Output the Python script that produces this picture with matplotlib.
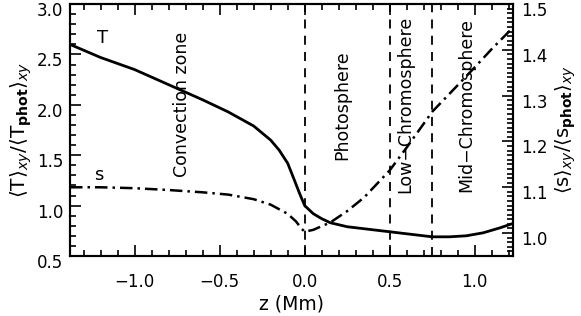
import numpy as np
import matplotlib
matplotlib.use("Agg")
import matplotlib.pyplot as plt
import matplotlib.transforms as mtransforms
from matplotlib.ticker import MultipleLocator

plt.rcParams['font.family'] = ['DejaVu Sans']
plt.rcParams['mathtext.fontset'] = 'dejavusans'

# mean temperature profile (left axis)
z_T = [-1.38, -1.2, -1.0, -0.8, -0.6, -0.45, -0.3, -0.2, -0.15, -0.1, -0.06, -0.03,
       0.0, 0.05, 0.1, 0.15, 0.25, 0.4, 0.5, 0.6, 0.75, 0.85, 0.95, 1.05, 1.15, 1.22]
T = [2.6, 2.47, 2.35, 2.2, 2.05, 1.93, 1.79, 1.65, 1.55, 1.42, 1.25, 1.12,
     1.0, 0.92, 0.87, 0.83, 0.79, 0.76, 0.74, 0.72, 0.69, 0.69, 0.70, 0.73, 0.78, 0.82]

# mean entropy profile (right axis)
z_s = [-1.38, -1.2, -1.0, -0.8, -0.6, -0.45, -0.3, -0.2, -0.1, -0.05, -0.02,
       0.0, 0.05, 0.1, 0.15, 0.25, 0.35, 0.5, 0.6, 0.75, 0.9, 1.0, 1.1, 1.22]
s = [1.1, 1.1, 1.098, 1.094, 1.089, 1.084, 1.074, 1.062, 1.042, 1.025, 1.01,
     1.003, 1.007, 1.015, 1.023, 1.048, 1.078, 1.137, 1.187, 1.265, 1.323, 1.362, 1.402, 1.447]

layers = [0.0, 0.5, 0.75]
zone_names = ["Convection zone", "Photosphere", "Low\u2212Chromosphere", "Mid\u2212Chromosphere"]
zone_x = [-0.72, 0.22, 0.59, 0.95]

fig = plt.figure(figsize=(5.81, 3.16), dpi=100)
ax = fig.add_axes([0.1205, 0.19, 0.7625, 0.797])
ax.plot(z_T, T, 'k-', lw=2)
for zl in layers:
    ax.axvline(zl, color='k', ls=(0, (5, 4)), lw=1.3)
for name, zx in zip(zone_names, zone_x):
    ax.text(zx, 2.0, name, rotation=90, ha='center', va='center', fontsize=12.5)
ax.text(-1.19, 2.66, "T", fontsize=13, ha='center', va='center')
ax.text(-1.21, 1.30, "s", fontsize=13, ha='center', va='center')

ax.set_xlim(-1.38, 1.225)
ax.set_ylim(0.5, 3.0)
ax.xaxis.set_major_locator(MultipleLocator(0.5))
ax.xaxis.set_minor_locator(MultipleLocator(0.1))
ax.yaxis.set_major_locator(MultipleLocator(0.5))
ax.yaxis.set_minor_locator(MultipleLocator(0.1))
ax.xaxis.set_major_formatter(plt.FuncFormatter(lambda v, p: f"{v:.1f}".replace('-', '\u2212')))
ax.yaxis.set_major_formatter(plt.FuncFormatter(lambda v, p: f"{v:.1f}"))
ax.tick_params(which='both', direction='in', top=True, right=False, labelsize=12, width=1.2)
ax.tick_params(which='major', length=8)
ax.tick_params(which='minor', length=4)
ax.tick_params(axis='x', pad=12)
ax.tick_params(axis='y', pad=5)
ax.set_xlabel("z (Mm)", fontsize=13.5, labelpad=3)
ax.set_ylabel(r"$\langle\mathrm{T}\rangle_{xy}/\langle\mathrm{T}_{\mathbf{phot}}\rangle_{xy}$",
              fontsize=14.5, labelpad=2)

ax2 = ax.twinx()
ax2.plot(z_s, s, 'k', lw=1.8, ls=(0, (5, 2, 1, 2)))
ax2.set_ylim(0.95, 1.5)
ax2.yaxis.set_major_locator(MultipleLocator(0.1))
ax2.yaxis.set_minor_locator(MultipleLocator(0.01))
ax2.yaxis.set_major_formatter(plt.FuncFormatter(lambda v, p: f"{v:.1f}"))
ax2.tick_params(which='both', direction='in', labelsize=12, width=1.2, pad=6)
ax2.tick_params(which='major', length=8)
ax2.tick_params(which='minor', length=4)
ax2.set_ylabel(r"$\langle\mathrm{s}\rangle_{xy}/\langle\mathrm{s}_{\mathbf{phot}}\rangle_{xy}$",
               fontsize=14, labelpad=4)

# tick labels sit a little below their ticks, as in the original
shift = mtransforms.ScaledTranslation(0, -5 / 100, fig.dpi_scale_trans)
for a in (ax, ax2):
    for lab in a.get_yticklabels():
        lab.set_transform(lab.get_transform() + shift)
    for sp in a.spines.values():
        sp.set_linewidth(1.5)

fig.savefig("out.png", dpi=100)
